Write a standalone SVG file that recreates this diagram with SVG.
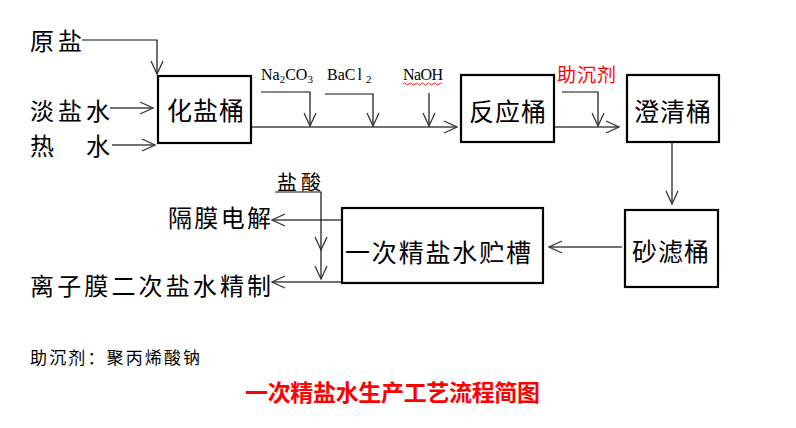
<svg xmlns="http://www.w3.org/2000/svg" width="796" height="428" viewBox="0 0 796 428">
<style>
.cn{font-family:"Noto Sans CJK SC","Noto Sans",sans-serif;font-size:24px;fill:#000;dominant-baseline:central}
.bx{font-size:25px}
.en{font-family:"Liberation Serif",serif;font-size:16px;fill:#000}
.box{fill:#fff;stroke:#000;stroke-width:2.2}
.ln{fill:none;stroke:#444;stroke-width:1.4}
.lb{fill:none;stroke:#111;stroke-width:1.2}
</style>
<defs>
<marker id="a" markerWidth="16" markerHeight="16" refX="14" refY="8" orient="auto" markerUnits="userSpaceOnUse">
<path d="M1,2 L14,8 L1,14" fill="none" stroke="#333" stroke-width="1.3"/>
</marker>
</defs>
<rect width="796" height="428" fill="#fff"/>

<g id="connectors">
<path class="lb" d="M82,40 H157 V74" marker-end="url(#a)"/>
<path class="ln" d="M110,108 H153" marker-end="url(#a)"/>
<path class="ln" d="M112,145 H155" marker-end="url(#a)"/>
<path class="ln" d="M251,127 H457" marker-end="url(#a)"/>
<path class="lb" d="M261,92 H310 V126" marker-end="url(#a)"/>
<path class="lb" d="M325,94 H373 V126" marker-end="url(#a)"/>
<path class="lb" d="M429,93 V126" marker-end="url(#a)"/>
<path class="ln" d="M554,127 H619" marker-end="url(#a)"/>
<path class="lb" d="M562,92 H598 V126" marker-end="url(#a)"/>
<path class="lb" d="M672,143 V204" marker-end="url(#a)"/>
<path class="ln" d="M622,247 H549" marker-end="url(#a)"/>
<path class="ln" d="M342,220 H272" marker-end="url(#a)"/>
<path class="ln" d="M342,282 H272" marker-end="url(#a)"/>
<path class="lb" d="M275,192 H321 V250" marker-end="url(#a)"/>
<path class="lb" d="M321,250 V279" marker-end="url(#a)"/>
</g>

<g id="n-yuanyan"><text class="cn" x="30" y="39" textLength="52">原盐</text></g>
<g id="n-danyanshui"><text class="cn" x="30" y="109" textLength="80">淡盐水</text></g>
<g id="n-reshui"><text class="cn" x="30" y="144">热</text><text class="cn" x="86" y="144">水</text></g>

<g id="n-huayantong">
<rect class="box" x="158" y="76" width="93" height="67"/>
<text class="cn bx" x="167" y="109" textLength="77">化盐桶</text>
</g>

<g id="n-na2co3"><text class="en" x="261" y="80">Na<tspan font-size="11" dy="3">2</tspan><tspan dy="-3">CO</tspan><tspan font-size="11" dy="3">3</tspan></text></g>
<g id="n-bacl2"><text class="en" x="327" y="80">BaC<tspan dx="2">l</tspan><tspan font-size="11" dx="4" dy="3">2</tspan></text></g>
<g id="n-naoh"><text class="en" x="403" y="80" textLength="40">NaOH</text>
<path d="M403,84 q1.5,-2 3,0 t3,0 t3,0 t3,0 t3,0 t3,0 t3,0 t3,0 t3,0 t3,0 t3,0 t3,0 t3,0" fill="none" stroke="#e00" stroke-width="0.9"/></g>

<g id="n-fanyingtong">
<rect class="box" x="461" y="75" width="93" height="67"/>
<text class="cn bx" x="469" y="110" textLength="77">反应桶</text>
</g>

<g id="n-zhuchenji"><text class="cn" x="557" y="73" style="fill:#f00;font-size:19px" textLength="59">助沉剂</text></g>

<g id="n-chengqingtong">
<rect class="box" x="627" y="75" width="92" height="67"/>
<text class="cn bx" x="634" y="110" textLength="77">澄清桶</text>
</g>

<g id="n-shalvtong">
<rect class="box" x="625" y="210" width="93" height="77"/>
<text class="cn bx" x="632" y="250" textLength="77">砂滤桶</text>
</g>

<g id="n-zhucao">
<rect class="box" x="342" y="208" width="201" height="75"/>
<text class="cn bx" x="345" y="251" textLength="186">一次精盐水贮槽</text>
</g>

<g id="n-yansuan"><text class="cn" x="277" y="181" style="font-size:20px" textLength="44">盐酸</text></g>
<g id="n-gemo"><text class="cn" x="168" y="216" textLength="103">隔膜电解</text></g>
<g id="n-lizimo"><text class="cn" x="30" y="284" textLength="241">离子膜二次盐水精制</text></g>

<g id="note"><text class="cn" x="30" y="356" style="font-size:17px" textLength="170">助沉剂：聚丙烯酸钠</text></g>
<g id="title"><text class="cn" x="245" y="391" style="font-size:23px;font-weight:bold;fill:#f00" textLength="295">一次精盐水生产工艺流程简图</text></g>
</svg>
